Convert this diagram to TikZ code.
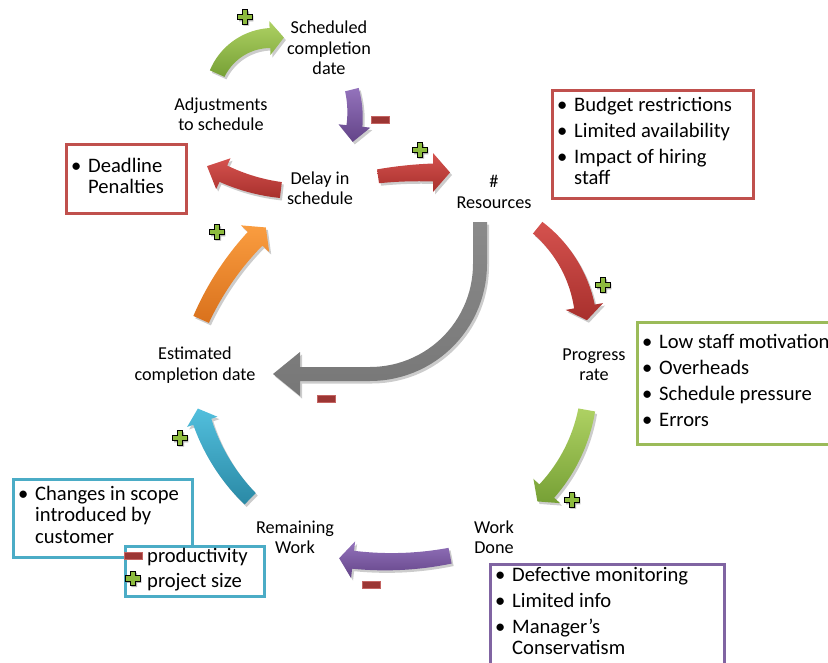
\documentclass[tikz,border=0pt]{standalone}
\usepackage{fontspec}
\setmainfont{Carlito}
\usetikzlibrary{shadows}

% palette
\definecolor{redA}{HTML}{D5524E}\definecolor{redB}{HTML}{A8302D}
\definecolor{grnA}{HTML}{AED163}\definecolor{grnB}{HTML}{76A035}
\definecolor{purA}{HTML}{9473BC}\definecolor{purB}{HTML}{634488}
\definecolor{gryA}{HTML}{8A8A8A}\definecolor{gryB}{HTML}{777777}
\definecolor{orgA}{HTML}{FA9D40}\definecolor{orgB}{HTML}{D9711C}
\definecolor{cynA}{HTML}{52BFDD}\definecolor{cynB}{HTML}{2A89A5}
\definecolor{edgeRed}{HTML}{C0504D}\definecolor{edgeGrn}{HTML}{9BBB59}
\definecolor{edgeCyn}{HTML}{4BACC6}\definecolor{edgePur}{HTML}{8064A2}
\definecolor{plusFill}{HTML}{8DBB3E}
\definecolor{minusFill}{HTML}{9C3634}\definecolor{minusEdge}{HTML}{C46462}

% bullets for the note boxes
\newcommand\bul{\makebox[17pt][l]{\textbullet}}
\newcommand\nobul{\makebox[17pt]{}}
\newcommand\topstrut{\rule{0pt}{16pt}}

% curved block arrow along a circular arc
\pgfkeys{/barrow/.cd,
  cx/.store in=\baCx, cy/.store in=\baCy, r/.store in=\baR,
  from/.store in=\baA, to/.store in=\baB,
  tail/.store in=\baWt, neck/.store in=\baWn,
  head/.store in=\baHw, len/.store in=\baHl}
\newcommand\blockarrow[2]{%
  \pgfkeys{/barrow/.cd,#2}%
  \pgfmathsetmacro\baS{ifthenelse(\baB>\baA,1,-1)}%
  \pgfmathsetmacro\baTx{\baCx+\baR*cos(\baB)-(\baS)*\baHl*sin(\baB)}%
  \pgfmathsetmacro\baTy{\baCy+\baR*sin(\baB)+(\baS)*\baHl*cos(\baB)}%
  \path[#1]
    plot[domain=\baA:\baB, samples=36]
      ({\baCx+(\baR+\baWt+(\baWn-\baWt)*(\x-(\baA))/(\baB-(\baA)))*cos(\x)},{\baCy+(\baR+\baWt+(\baWn-\baWt)*(\x-(\baA))/(\baB-(\baA)))*sin(\x)})
    -- ({\baCx+(\baR+\baHw)*cos(\baB)},{\baCy+(\baR+\baHw)*sin(\baB)})
    -- (\baTx,\baTy)
    -- ({\baCx+(\baR-\baHw)*cos(\baB)},{\baCy+(\baR-\baHw)*sin(\baB)})
    -- plot[domain=\baB:\baA, samples=36]
      ({\baCx+(\baR-\baWt-(\baWn-\baWt)*(\x-(\baA))/(\baB-(\baA)))*cos(\x)},{\baCy+(\baR-\baWt-(\baWn-\baWt)*(\x-(\baA))/(\baB-(\baA)))*sin(\x)})
    -- cycle;
}

\tikzset{
  lbl/.style={align=center, inner sep=0pt, font=\fontsize{18.2}{20.3}\selectfont},
  boxtxt/.style={align=left, anchor=north west, inner sep=0pt, font=\fontsize{20.6}{21.5}\selectfont},
  panel/.style={draw=#1, line width=3pt, fill=white, anchor=north west, inner sep=0pt},
  arr/.style 2 args={top color=#1, bottom color=#2,
    drop shadow={shadow xshift=2pt, shadow yshift=-2.5pt, opacity=0.2, fill=black}},
  plussign/.pic={
    \path[fill=plusFill, draw=black, line width=1.2pt, line join=miter,
      drop shadow={shadow xshift=1.2pt, shadow yshift=-1.5pt, opacity=0.3, fill=black}]
      (-2.8,-7.2) -- (2.8,-7.2) -- (2.8,-2.8) -- (7.2,-2.8) -- (7.2,2.8) -- (2.8,2.8)
      -- (2.8,7.2) -- (-2.8,7.2) -- (-2.8,2.8) -- (-7.2,2.8) -- (-7.2,-2.8) -- (-2.8,-2.8) -- cycle;},
  minussign/.pic={
    \path[fill=minusFill, draw=minusEdge, line width=0.8pt] (-9,-3.4) rectangle (9,3.4);}
}

\begin{document}
\begin{tikzpicture}[x=1pt, y=-1pt]
\useasboundingbox (0,0) rectangle (828,662);
\clip (0,0) rectangle (828,662);

% ---- loop arrows ----
% adjustments -> scheduled completion date
\blockarrow{arr={grnA}{grnB}}{cx=272, cy=98, r=60, from=204, to=268, tail=8, neck=10, head=17, len=14}
% scheduled completion date -> delay
\blockarrow{arr={purA}{purB}}{cx=250, cy=115, r=105, from=-14, to=6, tail=7, neck=8, head=16, len=16}
% delay -> adjustments
\blockarrow{arr={redA}{redB}}{cx=302.8, cy=3.3, r=188, from=96.7, to=115, tail=8, neck=9, head=17, len=18}
% delay -> resources
\blockarrow{arr={redA}{redB}}{cx=433, cy=572.5, r=400, from=262.1, to=270, tail=7, neck=9, head=19.5, len=17}
% resources -> progress rate
\blockarrow{arr={redA}{redB}}{cx=454.6, cy=330.3, r=132, from=-51, to=-10.4, tail=7.5, neck=10.5, head=19, len=14}
% progress rate -> work done
\blockarrow{arr={grnA}{grnB}}{cx=425.3, cy=380.9, r=164, from=10.2, to=42.2, tail=8.5, neck=10, head=18, len=14}
% work done -> remaining work
\blockarrow{arr={purA}{purB}}{cx=388.3, cy=240.7, r=321, from=78.9, to=96.3, tail=8, neck=9, head=18.5, len=14}
% remaining work -> estimated completion date
\blockarrow{arr={cynA}{cynB}}{cx=389, cy=359, r=197, from=134.8, to=161.4, tail=8, neck=9.5, head=16, len=14}
% estimated completion date -> delay
\blockarrow{arr={orgA}{orgB}}{cx=464, cy=437, r=288, from=204.1, to=223.5, tail=8.5, neck=10, head=19.5, len=15.6}
% resources -> estimated completion date (bent arrow)
\path[arr={gryA}{gryB}] (473,222) -- (473,264)
  -- plot[domain=0:90, samples=30] ({370+103*cos(\x)},{264+103*sin(\x)})
  -- (300,367) -- (300,352) -- (273,374) -- (300,396) -- (300,381)
  -- plot[domain=90:0, samples=30] ({370+117*cos(\x)},{264+117*sin(\x)})
  -- (487,264) -- (487,222) -- cycle;

% ---- variable labels ----
\node[lbl] (sched)  at (329,48)  {Scheduled\\completion\\date};
\node[lbl] (adjust) at (221,114) {Adjustments\\to schedule};
\node[lbl] (delay)  at (320,188) {Delay in\\schedule};
\node[lbl] (res)    at (494,192) {\#\\Resources};
\node[lbl] (prog)   at (594,365) {Progress\\rate};
\node[lbl] (done)   at (494,537) {Work\\Done};
\node[lbl] (remain) at (295,537) {Remaining\\Work};
\node[lbl] (est)    at (195,365) {Estimated\\completion date};

% ---- note boxes ----
\node[panel=edgeRed, minimum width=201pt, minimum height=108pt] (budgetbox) at (550.5,88.5) {};
\node[boxtxt] (budgettxt) at (557,95)
  {\topstrut\bul Budget restrictions\\[4.5pt]\bul Limited availability\\[4.5pt]\bul Impact of hiring\\\nobul staff};

\node[panel=edgeRed, minimum width=120pt, minimum height=69pt] (penaltybox) at (64.5,142.5) {};
\node[boxtxt] (penaltytxt) at (71,156) {\topstrut\bul Deadline\\\nobul Penalties};

\node[panel=edgeGrn, minimum width=220pt, minimum height=122pt] (staffbox) at (635.5,320.5) {};
\node[boxtxt] (stafftxt) at (642,332)
  {\topstrut\bul Low staff motivation\\[4.5pt]\bul Overheads\\[4.5pt]\bul Schedule pressure\\[4.5pt]\bul Errors};

\node[panel=edgeCyn, minimum width=179pt, minimum height=78pt] (scopebox) at (11.5,477.5) {};
\node[boxtxt] (scopetxt) at (18,484)
  {\topstrut\bul Changes in scope\\\nobul introduced by\\\nobul customer};

\node[panel=edgeCyn, minimum width=139pt, minimum height=50pt] (effectbox) at (123.5,544.5) {};
\node[boxtxt] (effecttxt) at (147,546) {\topstrut productivity\\[3.5pt]project size};

\node[panel=edgePur, minimum width=234pt, minimum height=130pt] (monitorbox) at (488.5,562.5) {};
\node[boxtxt] (monitortxt) at (495,565)
  {\topstrut\bul Defective monitoring\\[4.5pt]\bul Limited info\\[4.5pt]\bul Manager’s\\\nobul Conservatism};

% ---- polarity signs ----
\pic at (245,17)    {plussign};
\pic at (380,120)   {minussign};
\pic at (420,150)   {plussign};
\pic at (603,285)   {plussign};
\pic at (326,399)   {minussign};
\pic at (572,500)   {plussign};
\pic at (371,585)   {minussign};
\pic at (180,438)   {plussign};
\pic at (217,232)   {plussign};
\pic at (133.5,556) {minussign};
\pic at (133,578.5) {plussign};
\end{tikzpicture}
\end{document}
